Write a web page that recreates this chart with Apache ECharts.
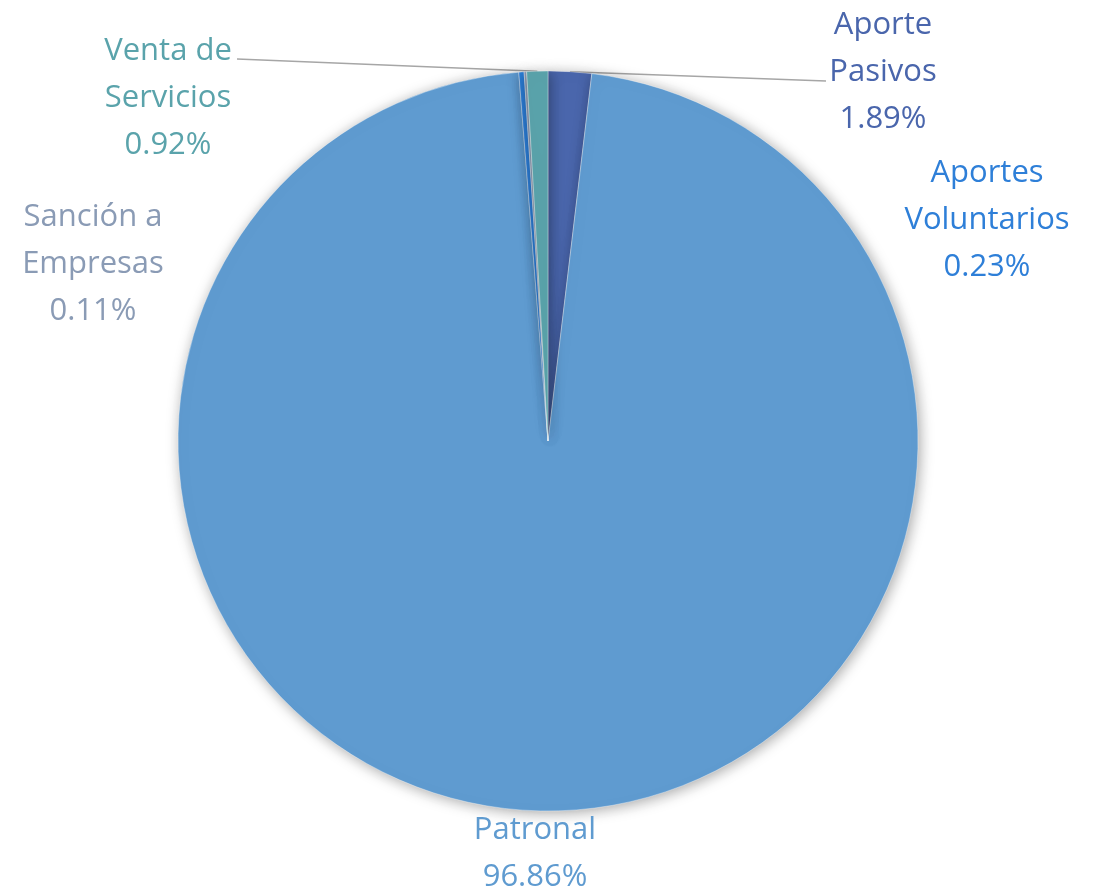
<!DOCTYPE html>
<html>
<head>
<meta charset="utf-8">
<script src="https://cdn.jsdelivr.net/npm/echarts@6/dist/echarts.min.js"></script>
<style>html,body{margin:0;padding:0;background:#fff}#c{width:1097px;height:890px}</style>
</head>
<body>
<div id="c"></div>
<script>
const categories = ['Aporte Pasivos', 'Patronal', 'Aportes Voluntarios', 'Sanción a Empresas', 'Venta de Servicios'];
const labelNames = ['Aporte\nPasivos', 'Patronal', 'Aportes\nVoluntarios', 'Sanción a\nEmpresas', 'Venta de\nServicios'];
const values = [1.89, 96.86, 0.23, 0.11, 0.92];
const colors = ['#4a66ac', '#5f9bd0', '#2e7fd8', '#8a9bb5', '#5aa3ab'];
const labelPos = [[883, 72], [535, 854], [987, 220], [93, 264], [168, 98]];
// where the leader line meets each label (offset from label centre), null = no line
const lineAnchor = [[-57, 9], null, null, null, [69, -39]];

const chart = echarts.init(document.getElementById('c'));
chart.setOption({
  animation: false,
  backgroundColor: '#fff',
  series: [{
    type: 'pie',
    center: [548, 441],
    radius: 370,
    startAngle: 90,
    clockwise: true,
    avoidLabelOverlap: false,
    data: categories.map((c, i) => ({
      name: c,
      value: values[i],
      itemStyle: { color: colors[i] },
      label: { color: colors[i], formatter: labelNames[i] + '\n' + values[i].toFixed(2) + '%' },
      labelLine: { show: lineAnchor[i] !== null }
    })),
    itemStyle: {
      borderColor: 'rgba(255,255,255,0.6)',
      borderWidth: 0.6,
      shadowBlur: 14,
      shadowColor: 'rgba(0,0,0,0.35)',
      shadowOffsetX: 2,
      shadowOffsetY: 2
    },
    label: {
      show: true,
      fontFamily: 'Open Sans',
      fontSize: 31,
      lineHeight: 47,
      align: 'center'
    },
    labelLine: {
      show: true,
      length: 2,
      length2: 2,
      lineStyle: { color: '#a6a6a6', width: 1.5 }
    },
    labelLayout: function (p) {
      const i = p.dataIndex;
      const pos = labelPos[i];
      const out = { x: pos[0], y: pos[1], align: 'center', verticalAlign: 'middle' };
      if (lineAnchor[i] && p.labelLinePoints) {
        const start = p.labelLinePoints[0];
        const a = [pos[0] + lineAnchor[i][0], pos[1] + lineAnchor[i][1]];
        out.labelLinePoints = [start, a, a];
      }
      return out;
    }
  }]
});
</script>
</body>
</html>
